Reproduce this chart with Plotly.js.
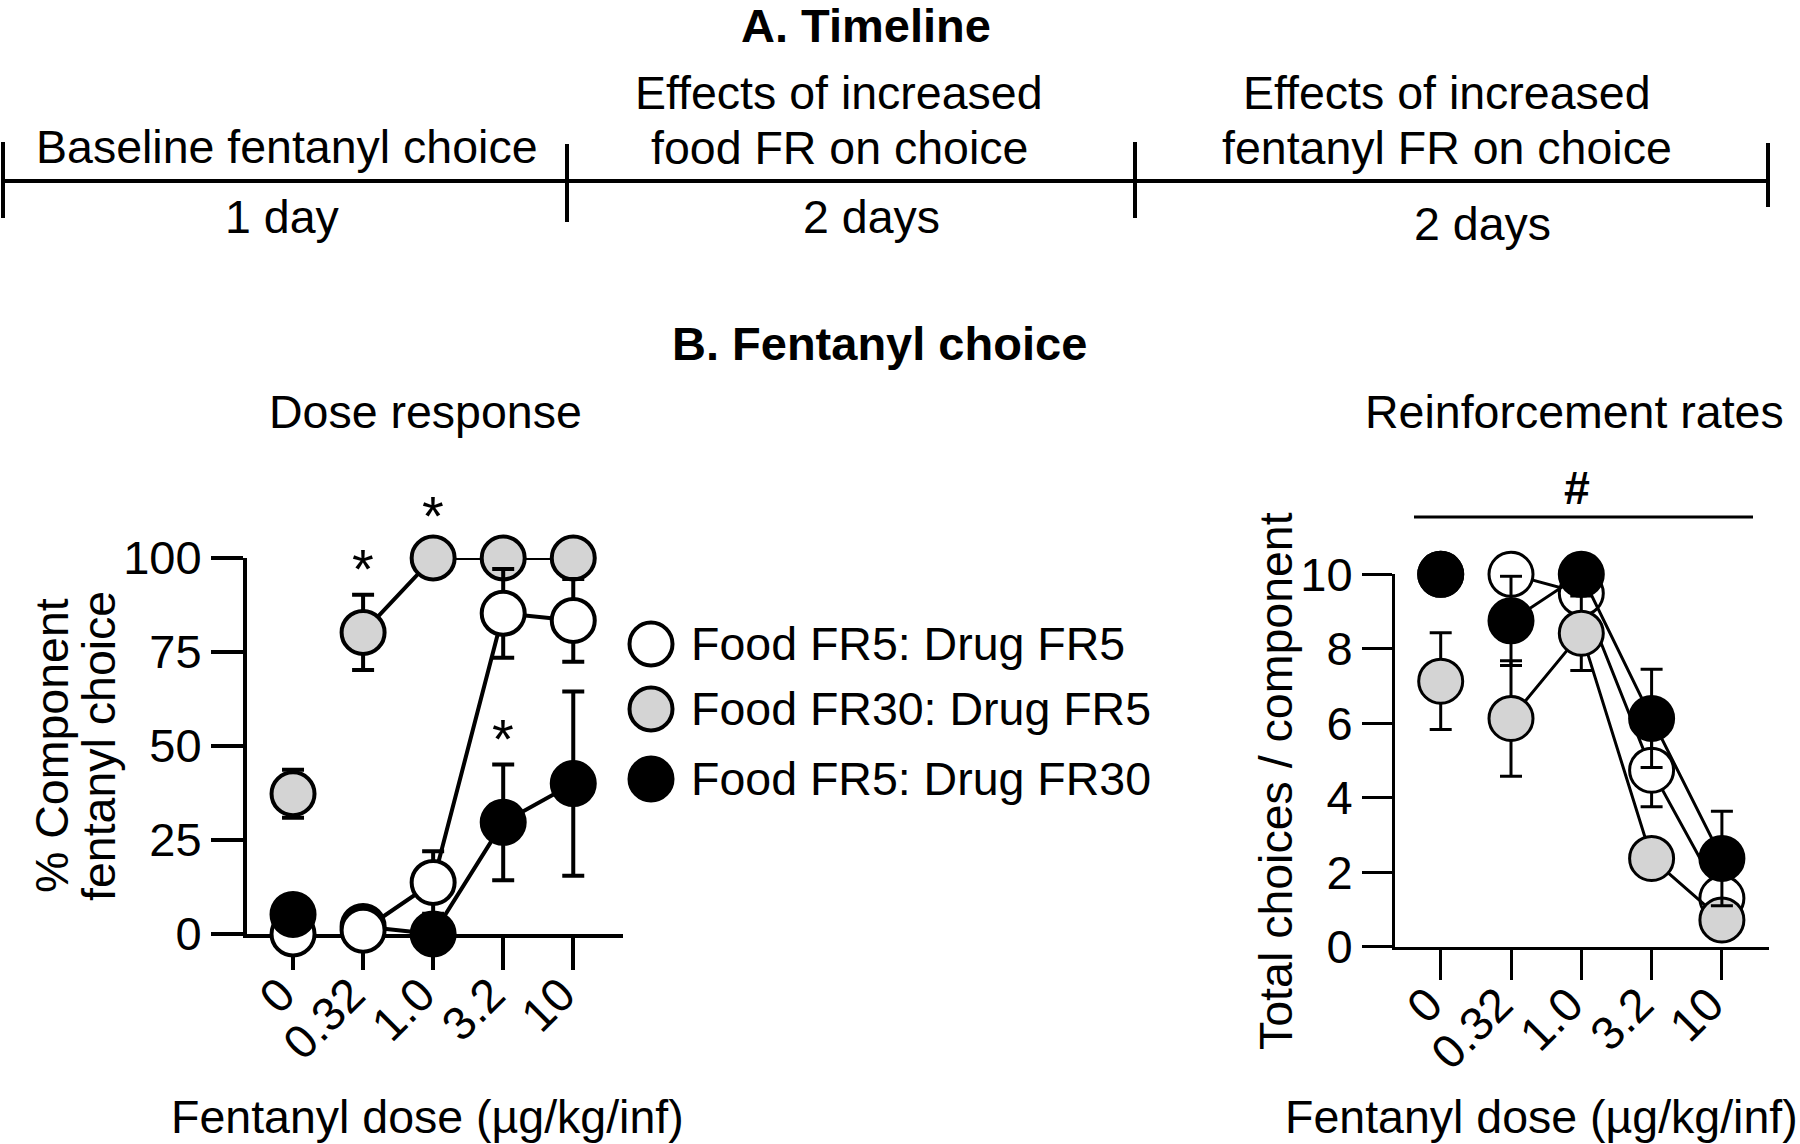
<!DOCTYPE html>
<html>
<head>
<meta charset="utf-8">
<script src="https://cdn.plot.ly/plotly-3.0.1.min.js"></script>
<style>
  html, body { margin: 0; padding: 0; background: #ffffff; }
  #chart { width: 1800px; height: 1144px; }
</style>
</head>
<body>
<div id="chart"></div>
<script>
// ---------------- Data ----------------
const doses = ["0", "0.32", "1.0", "3.2", "10"];
const seriesNames = ["Food FR5: Drug FR5", "Food FR30: Drug FR5", "Food FR5: Drug FR30"];

// Dose response: % component fentanyl choice (mean, SEM)
const drFR5FR5 = [0, 1, 13.7, 85.3, 83.4];
const drFR5FR5Err = [0, 0, 8.3, 11.8, 11];
const drFR30FR5 = [37.3, 80.2, 100, 100, 100];
const drFR30FR5Err = [6.4, 10, 0, 0, 0];
const drFR5FR30 = [5.2, 2, 0, 29.7, 40];
const drFR5FR30Err = [2, 1, 0, 15.4, 24.5];

// Reinforcement rates: total choices / component (mean, SEM)
const rrFR5FR5 = [10, 10, 9.49, 4.74, 1.3];
const rrFR5FR5Err = [0, 0, 0.6, 0.98, 0.4];
const rrFR30FR5 = [7.13, 6.13, 8.42, 2.37, 0.72];
const rrFR30FR5Err = [1.3, 1.55, 1.0, 0.3, 0.3];
const rrFR5FR30 = [10, 8.75, 10, 6.13, 2.37];
const rrFR5FR30Err = [0, 1.2, 0.3, 1.32, 1.27];

// Timeline text
const timelineSegments = [
  { top: ["Baseline fentanyl choice"], bottom: "1 day" },
  { top: ["Effects of increased", "food FR on choice"], bottom: "2 days" },
  { top: ["Effects of increased", "fentanyl FR on choice"], bottom: "2 days" }
];

// Significance markers (dose, level on the % choice scale)
const starDoses = ["0.32", "1.0", "3.2"];
const starValues = [98.7, 113, 53.6];

// ---------------- Styling ----------------
const W = 1800, H = 1144;
const FONT = "Liberation Sans, Arial, Helvetica, sans-serif";
const FS = 46.5;
const TFS = 47;
const fills = ["#ffffff", "#d4d4d4", "#000000"];
const px = x => x / W;
const py = y => 1 - y / H;

function pointTrace(xa, ya, vals, errs, fill, connected, lw, msz, name) {
  const idx = connected ? [1, 2, 3, 4] : [0];
  return {
    type: "scatter",
    xaxis: xa, yaxis: ya,
    x: idx.map(i => doses[i]),
    y: idx.map(i => vals[i]),
    name: name,
    mode: connected ? "lines+markers" : "markers",
    line: { color: "#000000", width: lw },
    marker: { size: msz, color: fill, line: { color: "#000000", width: lw } },
    error_y: { type: "data", array: idx.map(i => errs[i]), symmetric: true,
               color: "#000000", thickness: lw, width: 11 },
    cliponaxis: false,
    showlegend: false,
    hoverinfo: "skip"
  };
}

const dr = [
  { v: drFR5FR5, e: drFR5FR5Err, f: fills[0], n: seriesNames[0] },
  { v: drFR30FR5, e: drFR30FR5Err, f: fills[1], n: seriesNames[1] },
  { v: drFR5FR30, e: drFR5FR30Err, f: fills[2], n: seriesNames[2] }
];
const rr = [
  { v: rrFR5FR5, e: rrFR5FR5Err, f: fills[0], n: seriesNames[0] },
  { v: rrFR30FR5, e: rrFR30FR5Err, f: fills[1], n: seriesNames[1] },
  { v: rrFR5FR30, e: rrFR5FR30Err, f: fills[2], n: seriesNames[2] }
];

const traces = [];
// Left panel: baseline points (white, gray, black on top)
dr.forEach(s => traces.push(pointTrace("x", "y", s.v, s.e, s.f, false, 4, 43, s.n)));
// Left panel: connected doses (black, gray, white on top)
[2, 1, 0].forEach(k => traces.push(pointTrace("x", "y", dr[k].v, dr[k].e, dr[k].f, true, 4, 43, dr[k].n)));
// Right panel
rr.forEach(s => traces.push(pointTrace("x2", "y2", s.v, s.e, s.f, false, 3, 44, s.n)));
[0, 1, 2].forEach(k => traces.push(pointTrace("x2", "y2", rr[k].v, rr[k].e, rr[k].f, true, 3, 44, rr[k].n)));

function xAxis(domain, range, anchor, lw, tl) {
  return {
    domain: domain, range: range, anchor: anchor,
    type: "category", categoryorder: "array", categoryarray: doses,
    showline: true, linecolor: "#000000", linewidth: lw,
    ticks: "outside", ticklen: tl, tickwidth: lw, tickcolor: "#000000",
    tickangle: -45, tickfont: { family: FONT, size: TFS, color: "#000000" },
    ticklabelshift: -12, ticklabelstandoff: -22,
    showgrid: false, zeroline: false, layer: "below traces", fixedrange: true
  };
}
function yAxis(domain, range, tickvals, anchor, lw, tl) {
  return {
    domain: domain, range: range, anchor: anchor,
    tickmode: "array", tickvals: tickvals, ticktext: tickvals.map(String),
    showline: true, linecolor: "#000000", linewidth: lw,
    ticks: "outside", ticklen: tl, tickwidth: lw, tickcolor: "#000000",
    tickfont: { family: FONT, size: TFS, color: "#000000" },
    showgrid: false, zeroline: false, layer: "below traces", fixedrange: true
  };
}

// ---------------- Annotations & shapes ----------------
const annotations = [];
function ann(text, x, y, opts) {
  annotations.push(Object.assign({
    text: text, x: px(x), y: py(y), xref: "paper", yref: "paper",
    showarrow: false, xanchor: "center", yanchor: "middle",
    font: { family: FONT, size: FS, color: "#000000" }
  }, opts || {}));
}
const shapes = [];
function seg(x0, y0, x1, y1, w) {
  shapes.push({ type: "line", xref: "paper", yref: "paper",
    x0: px(x0), y0: py(y0), x1: px(x1), y1: py(y1),
    line: { color: "#000000", width: w } });
}

// Titles
ann("<b>A. Timeline</b>", 866, 26, { font: { family: FONT, size: 47, color: "#000" } });
ann("<b>B. Fentanyl choice</b>", 879, 344, { font: { family: FONT, size: 47, color: "#000" } });
ann("Dose response", 425, 412);
ann("Reinforcement rates", 1574, 412);

// Timeline
seg(3, 181, 1768, 181, 4);
[[3, 142, 218], [567, 144, 222], [1135, 142, 218], [1768, 143, 207]].forEach(t => seg(t[0], t[1], t[0], t[2], 4));
const segCenters = [287, 839, 1447];
const bottomCenters = [[282, 217], [871, 217], [1482, 224]];
timelineSegments.forEach((s, i) => {
  if (s.top.length === 1) {
    ann(s.top[0], segCenters[i], 147);
  } else {
    ann(s.top[0], segCenters[i], 93);
    ann(s.top[1], segCenters[i], 148);
  }
  ann(s.bottom, bottomCenters[i][0], bottomCenters[i][1]);
});

// Axis titles
ann("% Component", 52, 746, { textangle: -90 });
ann("fentanyl choice", 99, 746, { textangle: -90 });
ann("Fentanyl dose (µg/kg/inf)", 427, 1117);
ann("Total choices / component", 1276, 781, { textangle: -90 });
ann("Fentanyl dose (µg/kg/inf)", 1541, 1117);

// Stars (placed on the dose-response scale: x = category index, y = fraction of 0-100 range)
starDoses.forEach((d, i) => {
  annotations.push({ text: "*", x: doses.indexOf(d), y: starValues[i] / 100,
    xref: "x", yref: "y domain",
    showarrow: false, xanchor: "center", yanchor: "middle", yshift: -6,
    font: { family: FONT, size: 56, color: "#000" } });
});

// Hash + bar on right panel
ann("<b>#</b>", 1577, 488);
seg(1414, 517, 1753, 517, 3);

// Legend
const legendY = [644, 709, 779];
seriesNames.forEach((n, i) => {
  shapes.push({ type: "circle", xref: "paper", yref: "paper",
    xsizemode: "pixel", ysizemode: "pixel",
    xanchor: px(651), yanchor: py(legendY[i]),
    x0: -21.5, x1: 21.5, y0: -21.5, y1: 21.5,
    fillcolor: fills[i], line: { color: "#000000", width: 4 } });
  ann(n, 689, legendY[i], { xanchor: "left" });
});

const layout = {
  width: W, height: H, autosize: false,
  margin: { l: 0, r: 0, t: 0, b: 0, pad: 0 },
  paper_bgcolor: "#ffffff", plot_bgcolor: "rgba(0,0,0,0)",
  font: { family: FONT, size: FS, color: "#000000" },
  showlegend: false,
  xaxis: xAxis([247 / W, 623 / W], [-0.657, 4.71], "y", 4, 32),
  yaxis: yAxis([1 - 934 / H, 1 - 558 / H], [0, 100], [0, 25, 50, 75, 100], "x", 4, 32),
  xaxis2: xAxis([1395 / W, 1769 / W], [-0.65, 4.67], "y2", 3, 30),
  yaxis2: yAxis([1 - 946.7 / H, 1 - 574.3 / H], [0, 10], [0, 2, 4, 6, 8, 10], "x2", 3, 30),
  annotations: annotations,
  shapes: shapes
};

Plotly.newPlot("chart", traces, layout, { staticPlot: true, displayModeBar: false });
</script>
</body>
</html>
